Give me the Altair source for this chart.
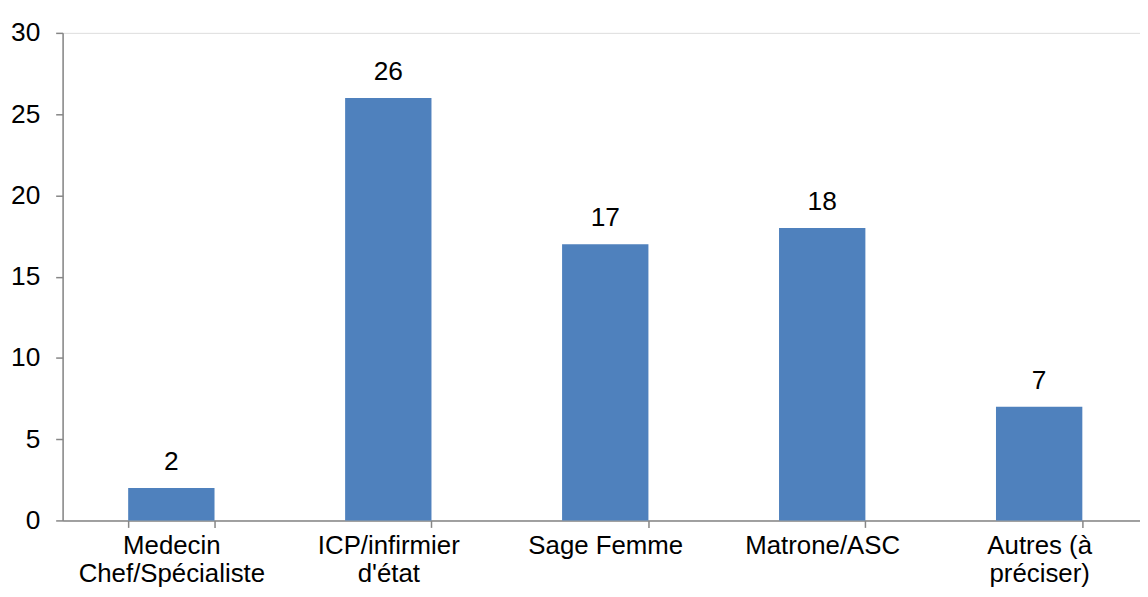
import altair as alt
import pandas as pd

categories = ["Medecin\nChef/Spécialiste", "ICP/infirmier\nd'état", "Sage Femme", "Matrone/ASC", "Autres (à\npréciser)"]
values = [2, 26, 17, 18, 7]
y_ticks = [0, 5, 10, 15, 20, 25, 30]

df = pd.DataFrame({"cat": categories, "val": values})

FONT = "Liberation Sans"
GRAY = "#868686"
FS = 26

xscale = alt.Scale(paddingInner=0.602, paddingOuter=0.284, align=0.532)

x = alt.X(
    "cat:N",
    sort=None,
    title=None,
    scale=xscale,
    axis=alt.Axis(
        labelExpr="split(datum.label, '\\n')",
        labelAngle=0,
        labelFont=FONT,
        labelFontSize=FS,
        labelColor="#000000",
        labelLineHeight=29,
        labelPadding=5,
        labelBaseline="top",
        labelLimit=0,
        tickBand="extent",
        tickSize=7,
        tickColor=GRAY,
        domainColor=GRAY,
        tickWidth=1.5,
        domainWidth=1.5,
        grid=False,
    ),
)
y = alt.Y(
    "val:Q",
    title=None,
    scale=alt.Scale(domain=[0, 30], nice=False),
    axis=alt.Axis(
        values=y_ticks,
        labelFont=FONT,
        labelFontSize=26.5,
        labelColor="#000000",
        labelPadding=16,
        tickSize=7,
        tickColor=GRAY,
        domainColor=GRAY,
        tickWidth=1.5,
        domainWidth=1.5,
        grid=False,
    ),
)

bars = alt.Chart(df).mark_bar(color="#4F81BD").encode(x=x, y=y)
labels = alt.Chart(df).mark_text(
    font=FONT, fontSize=26.5, color="#000000", baseline="alphabetic", dy=-18
).encode(x=x, y=y, text="val:Q")

chart = (
    alt.layer(bars, labels)
    .properties(
        width=1085,
        height=491,
        padding={"left": 55, "top": 23, "right": 0, "bottom": 67},
        autosize=alt.AutoSizeParams(type="none"),
    )
    .configure_view(stroke=None)
    .configure(background="#ffffff")
)

chart.save("out.html", embed_options={"renderer": "svg", "actions": False})
